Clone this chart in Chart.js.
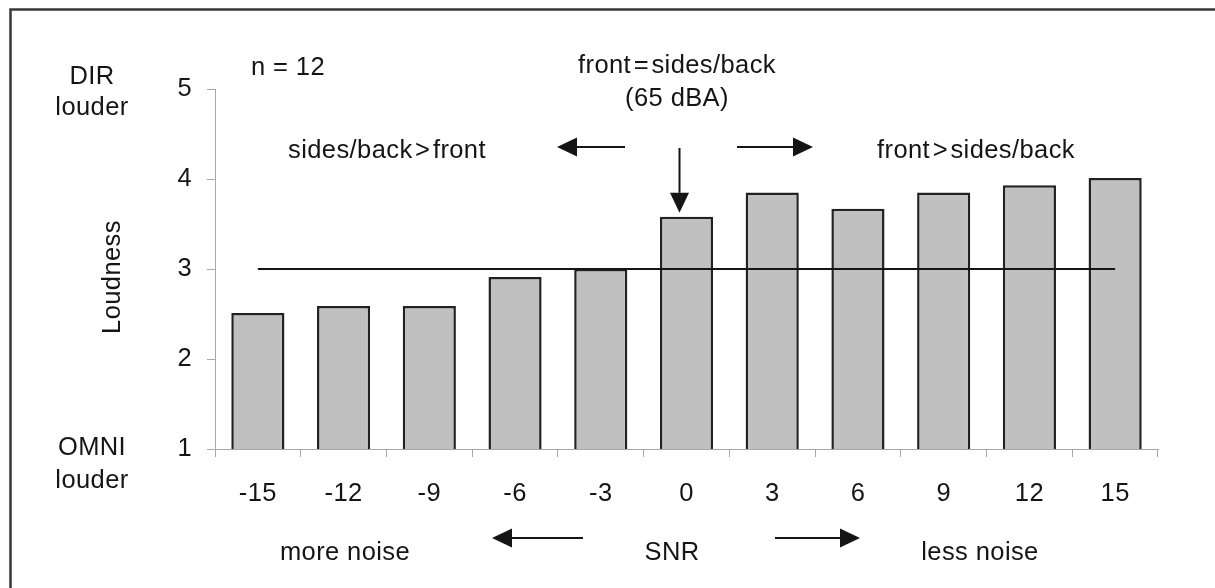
<!DOCTYPE html>
<html>
<head>
<meta charset="utf-8">
<script src="https://cdn.jsdelivr.net/npm/chart.js@4"></script>
<style>
  html, body { margin: 0; padding: 0; background: #fff; }
  #wrap { width: 1215px; height: 588px; position: relative; }
</style>
</head>
<body>
<div id="wrap"><canvas id="chart" width="1215" height="588"></canvas></div>
<script>
// ===== data
const snrLabels = ['-15', '-12', '-9', '-6', '-3', '0', '3', '6', '9', '12', '15'];
const loudness  = [2.51, 2.59, 2.59, 2.91, 3.0, 3.58, 3.85, 3.67, 3.85, 3.93, 4.01];
const neutral   = [3, 3, 3, 3, 3, 3, 3, 3, 3, 3, 3];
const yTicks    = [1, 2, 3, 4, 5];

const FONT = '"Liberation Sans", Arial, Helvetica, sans-serif';
const FSIZE = 25.5;
const ink  = '#151515';
const axisGrey = '#a8a8a8';

// arrows + free text, drawn after the chart
function arrow(ctx, x1, y1, x2, y2) {
  const ang = Math.atan2(y2 - y1, x2 - x1);
  const hl = 20, hw = 9.5;
  const bx = x2 - hl * Math.cos(ang), by = y2 - hl * Math.sin(ang);
  ctx.beginPath();
  ctx.moveTo(x1, y1);
  ctx.lineTo(bx, by);
  ctx.stroke();
  ctx.beginPath();
  ctx.moveTo(x2, y2);
  ctx.lineTo(bx + hw * Math.sin(ang), by - hw * Math.cos(ang));
  ctx.lineTo(bx - hw * Math.sin(ang), by + hw * Math.cos(ang));
  ctx.closePath();
  ctx.fill();
}

const notes = {
  id: 'notes',
  beforeDraw(chart) {
    chart.ctx.letterSpacing = '0.4px';
  },
  afterDraw(chart) {
    const ctx = chart.ctx;
    const xs = chart.scales.x, ys = chart.scales.y;
    ctx.save();

    // frame
    ctx.strokeStyle = '#383838';
    ctx.lineWidth = 2.5;
    ctx.beginPath();
    ctx.moveTo(10.5, 600);
    ctx.lineTo(10.5, 9.5);
    ctx.lineTo(1230, 9.5);
    ctx.stroke();

    ctx.fillStyle = ink;
    ctx.font = FSIZE + 'px ' + FONT;
    ctx.letterSpacing = '0.4px';
    ctx.textAlign = 'center';
    ctx.textBaseline = 'middle';

    const t = (s, x, y) => ctx.fillText(s, x, y);
    t('DIR', 92, 77);
    t('louder', 92, 108);
    t('OMNI', 92, 448);
    t('louder', 92, 481);
    t('n = 12', 288, 68);
    t('front\u200A=\u200Asides/back', 677, 66);
    t('(65 dBA)', 677, 99);
    t('sides/back\u200A>\u200Afront', 387, 151);
    t('front\u200A>\u200Asides/back', 976, 151);
    t('more noise', 345, 553);
    t('SNR', 672, 553);
    t('less noise', 980, 553);

    ctx.save();
    ctx.translate(113, 277);
    ctx.rotate(-Math.PI / 2);
    t('Loudness', 0, 0);
    ctx.restore();

    ctx.strokeStyle = ink;
    ctx.lineWidth = 2;
    arrow(ctx, 625, 147, 557, 147);
    arrow(ctx, 737, 147, 813, 147);
    const cx = xs.getPixelForValue(5) - 7;
    arrow(ctx, cx, 148, cx, ys.getPixelForValue(loudness[5]) - 4);
    arrow(ctx, 583, 538, 492, 538);
    arrow(ctx, 775, 538, 860, 538);

    ctx.restore();
  }
};

new Chart(document.getElementById('chart'), {
  data: {
    labels: snrLabels,
    datasets: [
      {
        type: 'line',
        data: neutral,
        borderColor: ink,
        borderWidth: 2,
        pointRadius: 0,
        fill: false,
        order: 0
      },
      {
        type: 'bar',
        data: loudness,
        backgroundColor: '#c0c0c0',
        borderColor: '#222',
        borderWidth: 2.5,
        barPercentage: 0.62,
        categoryPercentage: 1,
        order: 1
      }
    ]
  },
  options: {
    responsive: false,
    animation: false,
    layout: { padding: { top: 89, right: 57, left: 0, bottom: 0 } },
    plugins: { legend: { display: false }, tooltip: { enabled: false } },
    scales: {
      x: {
        offset: true,
        grid: { offset: true, drawOnChartArea: false, drawTicks: true, tickLength: 8, color: axisGrey, lineWidth: 1 },
        border: { color: axisGrey, width: 1 },
        ticks: { color: ink, font: { family: FONT, size: FSIZE }, padding: 22, maxRotation: 0 },
        afterFit: (s) => { s.height = 139; }
      },
      y: {
        min: 1,
        max: 5,
        afterBuildTicks: (s) => { s.ticks = yTicks.map(v => ({ value: v })); },
        grid: { drawOnChartArea: false, drawTicks: true, tickLength: 8, color: axisGrey, lineWidth: 1 },
        border: { color: axisGrey, width: 1 },
        ticks: { color: ink, font: { family: FONT, size: FSIZE }, padding: 15 },
        afterFit: (s) => { s.width = 215; }
      }
    }
  },
  plugins: [notes]
});
</script>
</body>
</html>
